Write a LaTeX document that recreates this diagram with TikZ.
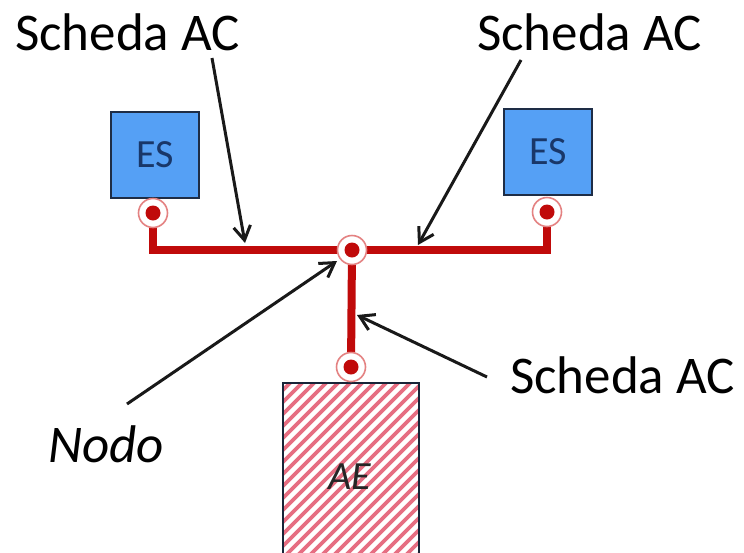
\documentclass[tikz,border=0pt]{standalone}
\usepackage{fontspec}
\setmainfont{Carlito}
\usetikzlibrary{arrows.meta}
\definecolor{busred}{RGB}{192,10,10}
\definecolor{ringred}{RGB}{228,130,130}
\definecolor{esblue}{RGB}{85,160,245}
\definecolor{esborder}{RGB}{30,45,70}
\definecolor{estext}{RGB}{25,55,105}
\definecolor{hatchred}{RGB}{230,110,130}
\tikzset{
  bus/.style={line width=8pt, busred},
  esbox/.style={draw=esborder, line width=1.5pt, fill=esblue, minimum width=88pt, minimum height=86pt, inner sep=0pt, font=\fontsize{40}{42}\selectfont, text=estext},
  label/.style={font=\fontsize{53}{60}\selectfont, inner sep=0pt, text=black},
  pointer/.style={line width=3pt, -{Straight Barb[length=14pt,width=17pt,line width=3pt]}, black!90},
  portring/.style={circle, draw=ringred, line width=1.6pt, fill=white, minimum size=29pt, inner sep=0pt},
  portdot/.style={circle, fill=busred, minimum size=15pt, inner sep=0pt}
}
\begin{document}
\begin{tikzpicture}[x=1pt,y=-1pt]
\useasboundingbox (0,0) rectangle (744,552);
\fill[white] (0,0) rectangle (744,552);

% boxes
\node[esbox] (esL) at (155,155) {ES};
\node[esbox] (esR) at (548,152) {ES};

% AE box (hatched)
\coordinate (aeTL) at (283,383);
\coordinate (aeBR) at (419,560);
\begin{scope}
  \clip (aeTL) rectangle (aeBR);
  \fill[white] (aeTL) rectangle (aeBR);
  \foreach \i in {-20,...,20}
    \draw[hatchred, line width=3.8pt] (283+12*\i,570) -- (283+12*\i+200,370);
\end{scope}
\draw[esborder!80!black, line width=1.5pt] (aeTL) rectangle (aeBR);
\node[font=\fontsize{40}{42}\selectfont\itshape, text=black!85, inner sep=0pt] (ae) at (350,477) {AE};

% port positions
\coordinate (pL) at (153,213);
\coordinate (pR) at (547,212);
\coordinate (pC) at (352,250);
\coordinate (pB) at (351,367);

% bus lines
\draw[bus] (pL) |- (pC) -| (pR);
\draw[bus] (pC) -- (pB);

% ports
\foreach \p in {pL,pR,pC,pB} {
  \node[portring] at (\p) {};
  \node[portdot] at (\p) {};
}
\node[portring, draw=none, fill=none] (nodo) at (pC) {};

% labels
\node[label, anchor=base west] (tlL) at (15,50) {Scheda AC};
\node[label, anchor=base west] (tlR) at (477,50) {Scheda AC};
\node[label, anchor=base west] (tlB) at (510,393) {Scheda AC};
\node[label, anchor=base west, font=\fontsize{53}{60}\selectfont\itshape] (nodoL) at (48,462) {Nodo};

% pointer endpoints
\coordinate (aL0) at (212,58);
\coordinate (aL1) at (245,243);
\coordinate (aR0) at (521,60);
\coordinate (aR1) at (418,245);
\coordinate (aN0) at (127,404);
\coordinate (aN1) at (337,261);
\coordinate (aB0) at (487,377);
\coordinate (aB1) at (357,315);

\draw[pointer] (aL0) -- (aL1);
\draw[pointer] (aR0) -- (aR1);
\draw[pointer] (aN0) -- (aN1);
\draw[pointer] (aB0) -- (aB1);
\end{tikzpicture}
\end{document}
